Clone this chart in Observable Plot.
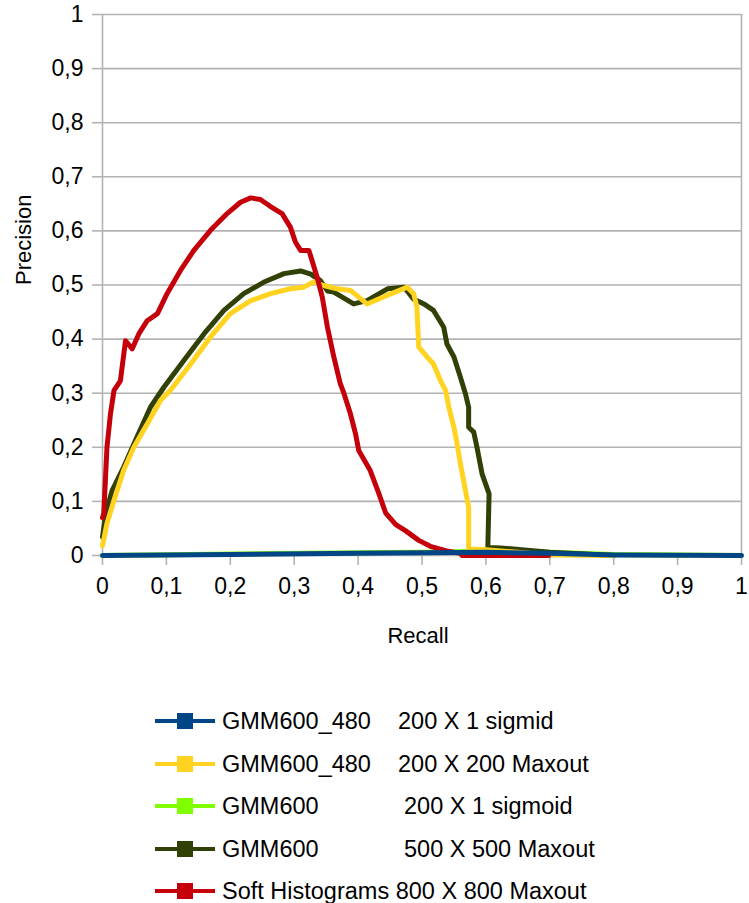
<!DOCTYPE html>
<html>
<head>
<meta charset="utf-8">
<script src="https://cdn.jsdelivr.net/npm/d3@7"></script>
<script src="https://cdn.jsdelivr.net/npm/@observablehq/plot@0.6"></script>
<style>
  body { margin: 0; background: #fff; font-family: "Liberation Sans", Arial, sans-serif; }
  #chart svg { display: block; }
  .legend { padding-top: 40px; }
  .legend .row { position: relative; height: 42.5px; font-size: 23.5px; color: #000; white-space: pre; }
  .legend .sw { position: absolute; left: 155px; top: 50%; width: 60px; height: 4px; margin-top: -2px; }
  .legend .sq { position: absolute; left: 177px; top: 50%; width: 16px; height: 16px; margin-top: -8px; }
  .legend .txt { position: absolute; left: 222px; top: 50%; transform: translateY(-50%); }
  .legend .name { display: inline-block; }
</style>
</head>
<body>
<div id="chart"></div>
<div class="legend" id="legend"></div>
<script>
// Precision / recall curves for five classifiers.
const seriesNames = [
  "GMM600_480", "GMM600_480", "GMM600", "GMM600", "Soft Histograms"
];
const seriesSpecs = [
  "200 X 1 sigmid", "200 X 200 Maxout", "200 X 1 sigmoid", "500 X 500 Maxout", "800 X 800 Maxout"
];
const seriesColors = ["#004586", "#ffd320", "#80ff00", "#314004", "#c5000b"];

// GMM600_480 200 X 1 sigmid
const blueRecall =    [0, 0.2, 0.4, 0.5, 0.6, 0.7, 0.8, 1];
const bluePrecision = [0, 0.002, 0.004, 0.005, 0.006, 0.004, 0.001, 0];

// GMM600_480 200 X 200 Maxout
const yellowRecall = [0, 0.007, 0.018, 0.033, 0.049, 0.07, 0.091, 0.106, 0.138, 0.169, 0.2, 0.232,
  0.263, 0.294, 0.315, 0.331, 0.346, 0.367, 0.388, 0.414, 0.446, 0.477, 0.487, 0.492, 0.495,
  0.508, 0.518, 0.529, 0.537, 0.542, 0.55, 0.555, 0.56, 0.568, 0.573, 0.573, 0.596, 0.65, 0.7, 0.8];
const yellowPrecision = [0.018, 0.059, 0.102, 0.157, 0.2, 0.243, 0.287, 0.305, 0.354, 0.404, 0.447, 0.471,
  0.484, 0.493, 0.496, 0.506, 0.499, 0.493, 0.49, 0.465, 0.481, 0.496, 0.484, 0.459, 0.385,
  0.367, 0.354, 0.323, 0.305, 0.274, 0.237, 0.206, 0.17, 0.12, 0.089, 0.012, 0.011, 0.006, 0.001, 0];

// GMM600 200 X 1 sigmoid
const limeRecall =    [0, 0.2, 0.4, 0.5, 0.6, 0.7, 0.8, 1];
const limePrecision = [0, 0.003, 0.005, 0.006, 0.008, 0.006, 0.002, 0];

// GMM600 500 X 500 Maxout
const greenRecall = [0, 0.005, 0.015, 0.033, 0.054, 0.075, 0.096, 0.127, 0.159, 0.19, 0.221, 0.252,
  0.284, 0.31, 0.326, 0.341, 0.352, 0.362, 0.393, 0.414, 0.446, 0.472, 0.487, 0.503, 0.518,
  0.534, 0.539, 0.55, 0.56, 0.568, 0.573, 0.573, 0.581, 0.586, 0.594, 0.605, 0.603, 0.623, 0.7, 0.8];
const greenPrecision = [0.034, 0.077, 0.12, 0.163, 0.219, 0.274, 0.311, 0.36, 0.41, 0.453, 0.484, 0.505,
  0.521, 0.526, 0.52, 0.508, 0.489, 0.487, 0.465, 0.471, 0.493, 0.496, 0.474, 0.465, 0.453,
  0.422, 0.391, 0.367, 0.33, 0.299, 0.274, 0.237, 0.228, 0.2, 0.151, 0.114, 0.015, 0.014, 0.006, 0];

// Soft Histograms 800 X 800 Maxout
const redRecall = [0, 0.002, 0.007, 0.0125, 0.018, 0.028, 0.036, 0.0465, 0.057, 0.07, 0.086, 0.101,
  0.122, 0.143, 0.169, 0.195, 0.216, 0.232, 0.247, 0.263, 0.281, 0.294, 0.302, 0.31, 0.323,
  0.328, 0.336, 0.344, 0.352, 0.362, 0.372, 0.378, 0.388, 0.396, 0.401, 0.419, 0.432, 0.443,
  0.459, 0.474, 0.495, 0.513, 0.537, 0.56, 0.563, 0.698];
const redPrecision = [0.07, 0.078, 0.2, 0.262, 0.305, 0.323, 0.397, 0.382, 0.41, 0.434, 0.447, 0.484,
  0.527, 0.564, 0.601, 0.632, 0.653, 0.661, 0.658, 0.645, 0.632, 0.607, 0.579, 0.564, 0.564,
  0.545, 0.514, 0.477, 0.422, 0.367, 0.318, 0.299, 0.262, 0.225, 0.194, 0.157, 0.116, 0.079,
  0.057, 0.046, 0.028, 0.017, 0.009, 0.004, 0, 0];

const xTicks = [0, 0.1, 0.2, 0.3, 0.4, 0.5, 0.6, 0.7, 0.8, 0.9, 1];
const yTicks = [0, 0.1, 0.2, 0.3, 0.4, 0.5, 0.6, 0.7, 0.8, 0.9, 1];

const pts = (xs, ys) => xs.map((x, i) => ({x, y: ys[i]}));
const comma = d => String(d).replace(".", ",");
const grid = "#b3b3b3";

// draw order: lower layers first, the nearly-flat blue curve last
const curves = [
  {data: pts(limeRecall, limePrecision), color: seriesColors[2]},
  {data: pts(greenRecall, greenPrecision), color: seriesColors[3]},
  {data: pts(yellowRecall, yellowPrecision), color: seriesColors[1]},
  {data: pts(redRecall, redPrecision), color: seriesColors[4]},
  {data: pts(blueRecall, bluePrecision), color: seriesColors[0]}
];

const chart = Plot.plot({
  width: 749,
  height: 660,
  marginTop: 14,
  marginLeft: 102,
  marginRight: 8,
  marginBottom: 105,
  style: {fontFamily: "Liberation Sans, Arial, sans-serif", background: "#fff"},
  x: {domain: [0, 1]},
  y: {domain: [0, 1]},
  marks: [
    Plot.ruleY(yTicks, {stroke: grid, strokeWidth: 1.6}),
    Plot.ruleX([0, 1], {stroke: grid, strokeWidth: 1.6}),
    Plot.axisX({ticks: xTicks, tickFormat: comma, tickSize: 10, tickPadding: 12,
      stroke: grid, strokeWidth: 1.6, fill: "#000", fontSize: 23, label: null}),
    Plot.axisY({ticks: yTicks, tickFormat: comma, tickSize: 10, tickPadding: 9,
      stroke: grid, strokeWidth: 1.6, fill: "#000", fontSize: 23, label: null}),
    ...curves.map(c => Plot.line(c.data, {x: "x", y: "y", stroke: c.color, strokeWidth: 5,
      strokeLinejoin: "round", strokeLinecap: "round"})),
    Plot.text(["Recall"], {frameAnchor: "bottom", dy: 87, dx: -4, fontSize: 22, fill: "#000"}),
    Plot.text(["Precision"], {frameAnchor: "left", dx: -79, rotate: -90, fontSize: 22, fill: "#000"})
  ]
});
document.getElementById("chart").append(chart);

// legend under the plot
const legend = document.getElementById("legend");
seriesNames.forEach((name, i) => {
  const row = document.createElement("div");
  row.className = "row";
  const sw = document.createElement("div");
  sw.className = "sw";
  sw.style.background = seriesColors[i];
  const sq = document.createElement("div");
  sq.className = "sq";
  sq.style.background = seriesColors[i];
  const txt = document.createElement("div");
  txt.className = "txt";
  const nm = document.createElement("span");
  nm.className = "name";
  nm.textContent = name;
  if (i < 2) nm.style.width = "176px";
  else if (i < 4) nm.style.width = "182px";
  else nm.textContent = name + " ";
  txt.append(nm, document.createTextNode(seriesSpecs[i]));
  row.append(sw, sq, txt);
  legend.append(row);
});
</script>
</body>
</html>
